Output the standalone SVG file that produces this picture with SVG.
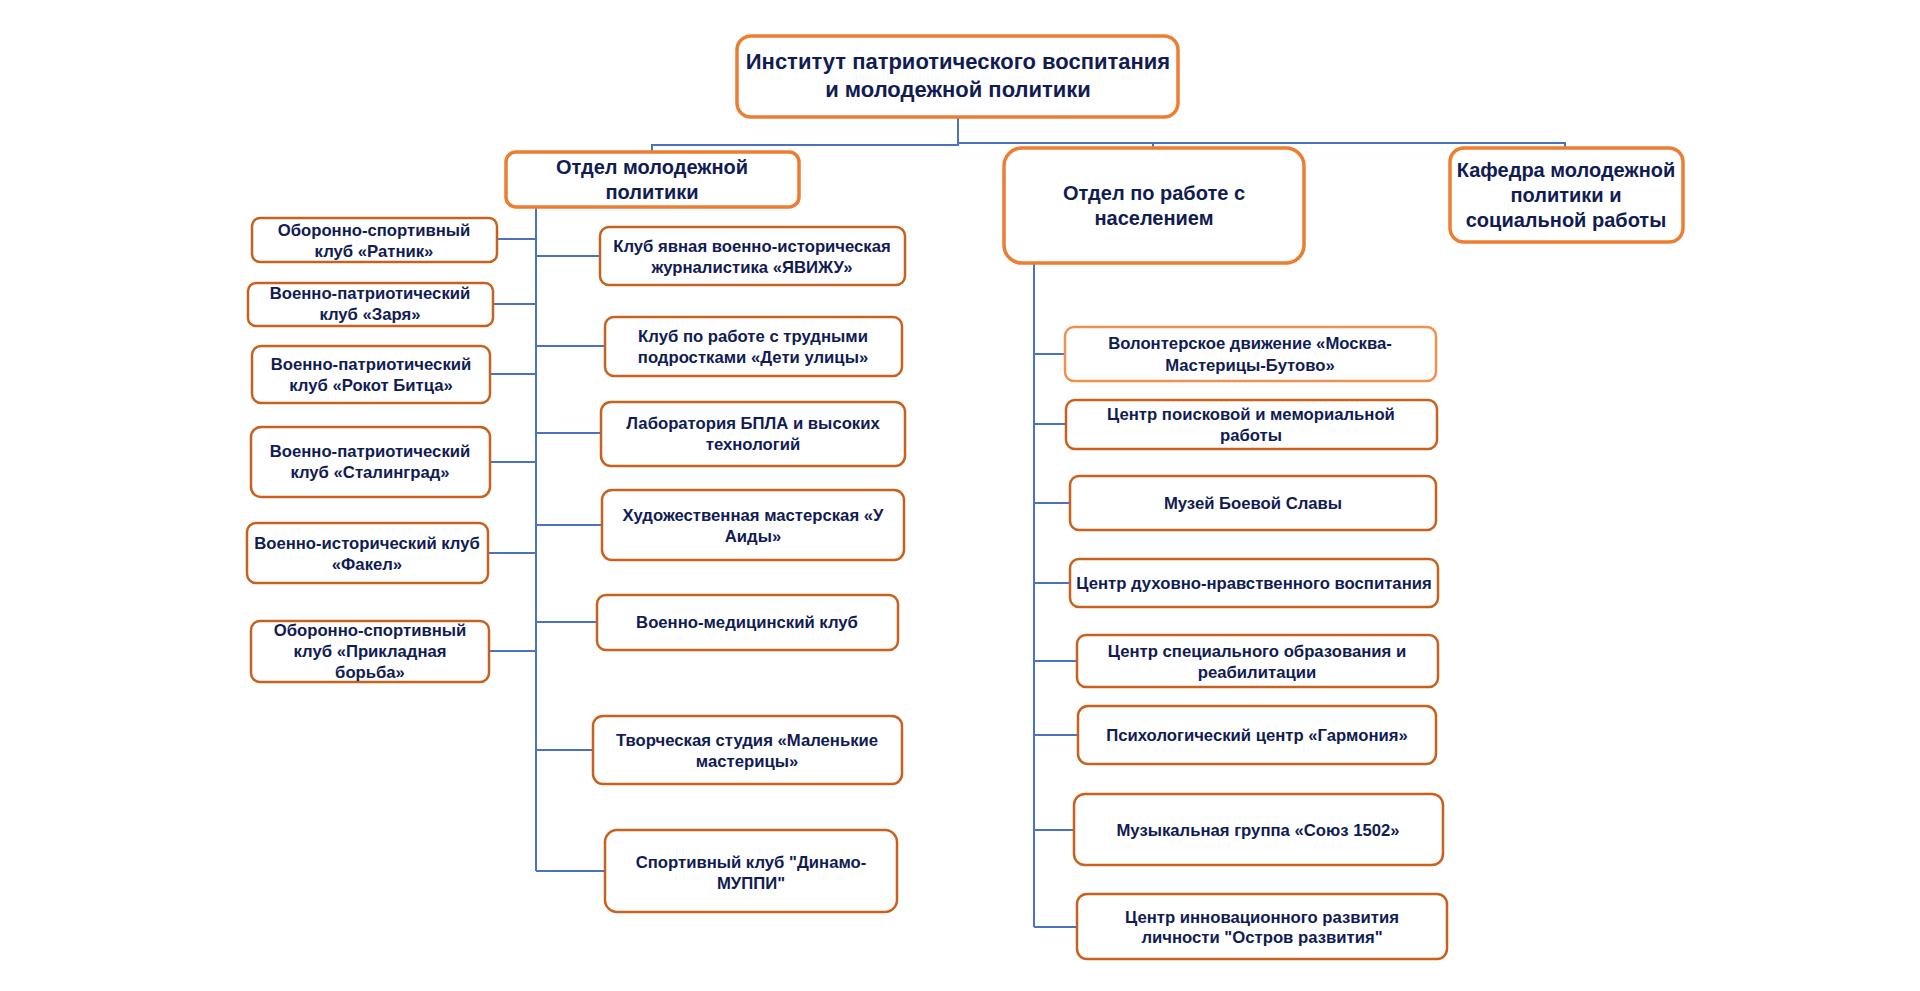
<svg xmlns="http://www.w3.org/2000/svg" width="1920" height="991" viewBox="0 0 1920 991">
<style>
.main{fill:#fff;stroke:#ED7D31;stroke-width:3.5}
.sub{fill:#fff;stroke:#C8611E;stroke-width:2.5}
.lite{fill:#fff;stroke:#F0914F;stroke-width:2.5}
text{font-family:"Liberation Sans",Arial,sans-serif;font-weight:bold;fill:#111C52;text-anchor:middle}
.t1{font-size:22px}
.t2{font-size:20px}
.t3{font-size:16.7px}
.c{fill:none;stroke:#4A72C0;stroke-width:2}
</style>
<rect width="1920" height="991" fill="#fff"/>
<g id="connectors">
<path class="c" d="M958 117V145H652V152"/>
<path class="c" d="M958 143H1565V148M1153 143V148"/>
<path class="c" d="M536 207V871"/>
<path class="c" d="M497 239H536M493 304H536M490 374H536M490 462H536M488 553H536M489 651H536"/>
<path class="c" d="M536 256H600M536 346H605M536 433H601M536 525H602M536 622H597M536 750H593M536 871H605"/>
<path class="c" d="M1034 263V927"/>
<path class="c" d="M1034 354H1065M1034 424H1066M1034 503H1070M1034 583H1070M1034 661H1077M1034 735H1078M1034 830H1074M1034 927H1077"/>
</g>
<g id="institute"><rect class="main" x="737" y="36" width="441" height="81" rx="14"/><text class="t1" x="958" y="69">Институт патриотического воспитания</text><text class="t1" x="958" y="97">и молодежной политики</text></g>
<g id="dept-youth"><rect class="main" x="506" y="152" width="293" height="55" rx="10"/><text class="t2" x="652" y="174">Отдел молодежной</text><text class="t2" x="652" y="199">политики</text></g>
<g id="dept-population"><rect class="main" x="1004" y="148" width="300" height="115" rx="18"/><text class="t2" x="1154" y="200">Отдел по работе с</text><text class="t2" x="1154" y="225">населением</text></g>
<g id="kafedra"><rect class="main" x="1450" y="148" width="233" height="94" rx="14"/><text class="t2" x="1566" y="177">Кафедра молодежной</text><text class="t2" x="1566" y="202">политики и</text><text class="t2" x="1566" y="227">социальной работы</text></g>

<g id="l1"><rect class="sub" x="252" y="218" width="245" height="44" rx="8"/><text class="t3" x="374" y="236">Оборонно-спортивный</text><text class="t3" x="374" y="257">клуб «Ратник»</text></g>
<g id="l2"><rect class="sub" x="248" y="283" width="245" height="43" rx="8"/><text class="t3" x="370" y="299">Военно-патриотический</text><text class="t3" x="370" y="320">клуб «Заря»</text></g>
<g id="l3"><rect class="sub" x="252" y="346" width="238" height="57" rx="9"/><text class="t3" x="371" y="370">Военно-патриотический</text><text class="t3" x="371" y="391">клуб «Рокот Битца»</text></g>
<g id="l4"><rect class="sub" x="251" y="427" width="239" height="70" rx="10"/><text class="t3" x="370" y="457">Военно-патриотический</text><text class="t3" x="370" y="478">клуб «Сталинград»</text></g>
<g id="l5"><rect class="sub" x="247" y="523" width="241" height="60" rx="9"/><text class="t3" x="367" y="549">Военно-исторический клуб</text><text class="t3" x="367" y="570">«Факел»</text></g>
<g id="l6"><rect class="sub" x="251" y="621" width="238" height="61" rx="9"/><text class="t3" x="370" y="636">Оборонно-спортивный</text><text class="t3" x="370" y="657">клуб «Прикладная</text><text class="t3" x="370" y="678">борьба»</text></g>

<g id="r1"><rect class="sub" x="600" y="227" width="305" height="58" rx="9"/><text class="t3" x="752" y="252">Клуб явная военно-историческая</text><text class="t3" x="752" y="273">журналистика «ЯВИЖУ»</text></g>
<g id="r2"><rect class="sub" x="605" y="317" width="297" height="59" rx="9"/><text class="t3" x="753" y="342">Клуб по работе с трудными</text><text class="t3" x="753" y="363">подростками «Дети улицы»</text></g>
<g id="r3"><rect class="sub" x="601" y="402" width="304" height="64" rx="10"/><text class="t3" x="753" y="429">Лаборатория БПЛА и высоких</text><text class="t3" x="753" y="450">технологий</text></g>
<g id="r4"><rect class="sub" x="602" y="490" width="302" height="70" rx="10"/><text class="t3" x="753" y="521">Художественная мастерская «У</text><text class="t3" x="753" y="542">Аиды»</text></g>
<g id="r5"><rect class="sub" x="597" y="595" width="301" height="55" rx="9"/><text class="t3" x="747" y="628">Военно-медицинский клуб</text></g>
<g id="r6"><rect class="sub" x="593" y="716" width="309" height="68" rx="10"/><text class="t3" x="747" y="746">Творческая студия «Маленькие</text><text class="t3" x="747" y="767">мастерицы»</text></g>
<g id="r7"><rect class="sub" x="605" y="830" width="292" height="82" rx="12"/><text class="t3" x="751" y="868">Спортивный клуб "Динамо-</text><text class="t3" x="751" y="889">МУППИ"</text></g>

<g id="c1"><rect class="lite" x="1065" y="327" width="371" height="54" rx="9"/><text class="t3" x="1250" y="349">Волонтерское движение «Москва-</text><text class="t3" x="1250" y="371">Мастерицы-Бутово»</text></g>
<g id="c2"><rect class="sub" x="1066" y="400" width="371" height="49" rx="9"/><text class="t3" x="1251" y="420">Центр поисковой и мемориальной</text><text class="t3" x="1251" y="441">работы</text></g>
<g id="c3"><rect class="sub" x="1070" y="476" width="366" height="54" rx="9"/><text class="t3" x="1253" y="509">Музей Боевой Славы</text></g>
<g id="c4"><rect class="sub" x="1070" y="559" width="368" height="48" rx="9"/><text class="t3" x="1254" y="589">Центр духовно-нравственного воспитания</text></g>
<g id="c5"><rect class="sub" x="1077" y="635" width="361" height="52" rx="9"/><text class="t3" x="1257" y="657">Центр специального образования и</text><text class="t3" x="1257" y="678">реабилитации</text></g>
<g id="c6"><rect class="sub" x="1078" y="706" width="358" height="58" rx="10"/><text class="t3" x="1257" y="741">Психологический центр «Гармония»</text></g>
<g id="c7"><rect class="sub" x="1074" y="794" width="369" height="71" rx="11"/><text class="t3" x="1258" y="836">Музыкальная группа «Союз 1502»</text></g>
<g id="c8"><rect class="sub" x="1077" y="894" width="370" height="65" rx="10"/><text class="t3" x="1262" y="923">Центр инновационного развития</text><text class="t3" x="1262" y="943">личности "Остров развития"</text></g>
</svg>
